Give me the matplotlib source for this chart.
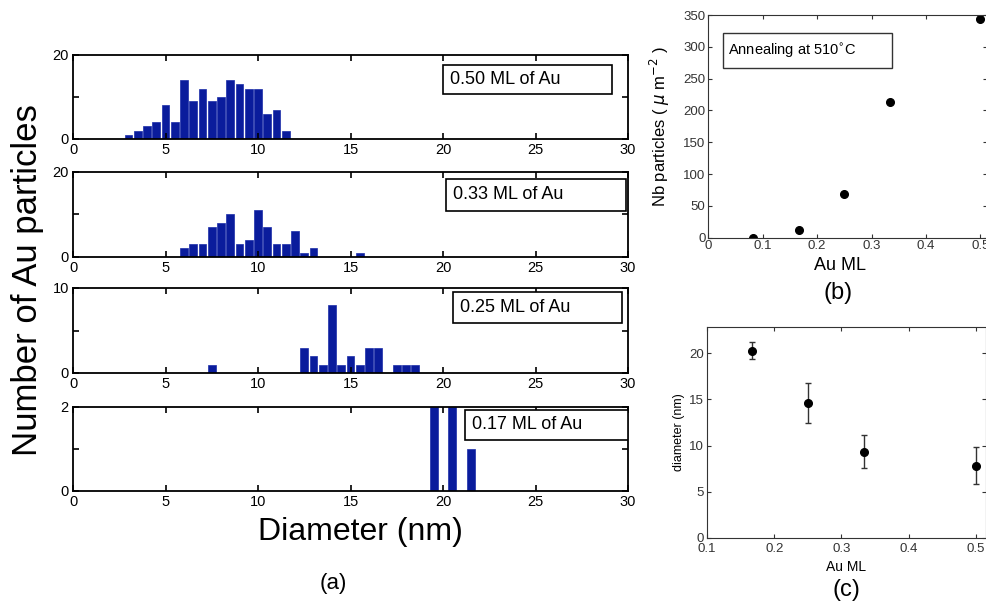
import matplotlib
matplotlib.use('Agg')
import matplotlib.pyplot as plt
from matplotlib.patches import Rectangle

plt.rcParams['font.family'] = ['Liberation Sans', 'DejaVu Sans']

# histogram data: bin centres (nm) and counts, one pair per coverage
c050 = [3.0, 3.5, 4.0, 4.5, 5.0, 5.5, 6.0, 6.5, 7.0, 7.5, 8.0, 8.5, 9.0, 9.5, 10.0, 10.5, 11.0, 11.5]
n050 = [1, 2, 3, 4, 8, 4, 14, 9, 12, 9, 10, 14, 13, 12, 12, 6, 7, 2]
c033 = [6.0, 6.5, 7.0, 7.5, 8.0, 8.5, 9.0, 9.5, 10.0, 10.5, 11.0, 11.5, 12.0, 12.5, 13.0, 15.5]
n033 = [2, 3, 3, 7, 8, 10, 3, 4, 11, 7, 3, 3, 6, 1, 2, 1]
c025 = [7.5, 12.5, 13.0, 13.5, 14.0, 14.5, 15.0, 15.5, 16.0, 16.5, 17.5, 18.0, 18.5]
n025 = [1, 3, 2, 1, 8, 1, 2, 1, 3, 3, 1, 1, 1]
c017 = [19.5, 20.5, 21.5]
n017 = [2, 2, 1]

labels = ['0.50 ML of Au', '0.33 ML of Au', '0.25 ML of Au', '0.17 ML of Au']
ymax = [20, 20, 10, 2]

# (b) particle density vs coverage
ml_b = [0.083, 0.167, 0.25, 0.333, 0.5]
dens_b = [0, 12, 68, 213, 344]

# (c) mean diameter vs coverage
ml_c = [0.167, 0.25, 0.333, 0.5]
diam_c = [20.3, 14.6, 9.35, 7.8]
err_c = [0.9, 2.2, 1.8, 2.0]

W, H = 986, 603
fig = plt.figure(figsize=(W / 100, H / 100), dpi=100)


def pax(left, top, right, bottom):
    # axes from pixel box
    return fig.add_axes([left / W, 1 - bottom / H, (right - left) / W, (bottom - top) / H])


bar_color = '#0a1c9c'

hist_tops = [55, 171.7, 288, 406.7]
hist_bots = [139, 257, 373, 491]
boxes = [(0.666, 0.532, 0.972, 0.881),
         (0.672, 0.543, 0.996, 0.911),
         (0.685, 0.585, 0.989, 0.949),
         (0.706, 0.605, 1.0, 0.961)]
data = [(c050, n050), (c033, n033), (c025, n025), (c017, n017)]

for i in range(4):
    ax = pax(73, hist_tops[i], 628, hist_bots[i])
    cx, cnt = data[i]
    ax.bar(cx, cnt, width=0.42, color=bar_color, edgecolor='#1a2ca8', linewidth=0.5)
    ax.set_xlim(0, 30)
    ax.set_ylim(0, ymax[i])
    ax.set_xticks(range(0, 31, 5))
    ax.set_yticks([0, ymax[i] / 2, ymax[i]])
    ax.set_yticklabels(['0', '', str(ymax[i])])
    ax.tick_params(direction='in', top=True, right=True, length=4, width=1.2, labelsize=10.5, pad=3)
    for sp in ax.spines.values():
        sp.set_linewidth(1.3)
    x0, y0, x1, y1 = boxes[i]
    ax.add_patch(Rectangle((x0, y0), x1 - x0, y1 - y0, transform=ax.transAxes,
                           fill=True, facecolor='white', edgecolor='black', linewidth=1.2, zorder=5))
    ax.text(x0 + 0.013, (y0 + y1) / 2, labels[i], transform=ax.transAxes, ha='left', va='center',
            fontsize=13, zorder=6)

fig.text(28 / W, 1 - 280 / H, 'Number of Au particles', rotation=90, ha='center', va='center', fontsize=25)
fig.text(360 / W, 1 - 532 / H, 'Diameter (nm)', ha='center', va='center', fontsize=23)
fig.text(333 / W, 1 - 583 / H, '(a)', ha='center', va='center', fontsize=16)

gray = '#333333'

# (b)
axb = pax(708.3, 15, 987, 237.7)
axb.plot(ml_b, dens_b, 'o', color='black', markersize=5.5)
axb.set_xlim(0, 0.512)
axb.set_ylim(0, 350)
axb.set_xticks([0, 0.1, 0.2, 0.3, 0.4, 0.5])
axb.set_xticklabels(['0', '0.1', '0.2', '0.3', '0.4', '0.5'])
axb.set_yticks(range(0, 351, 50))
axb.tick_params(direction='in', top=True, right=True, length=3, width=0.8, labelsize=9.5,
                colors=gray, labelcolor='#333333', pad=2)
for sp in axb.spines.values():
    sp.set_color(gray)
axb.add_patch(Rectangle((0.053, 0.762), 0.606, 0.157, transform=axb.transAxes,
                        facecolor='white', edgecolor=gray, linewidth=1))
axb.text(0.072, 0.84, r'Annealing at 510$^{\circ}$C', transform=axb.transAxes,
         ha='left', va='center', fontsize=10.5)
axb.set_ylabel(r'Nb particles ( $\mu$ m$^{-2}$ )', fontsize=12, labelpad=8)
fig.text(840 / W, 1 - 265 / H, 'Au ML', ha='center', va='center', fontsize=13)
fig.text(838 / W, 1 - 293 / H, '(b)', ha='center', va='center', fontsize=17)

# (c)
axc = pax(707, 326.7, 986, 537.7)
axc.errorbar(ml_c, diam_c, yerr=err_c, fmt='o', color='black', ecolor='#333333',
             markersize=5.5, capsize=2.5, elinewidth=1, capthick=1)
axc.set_xlim(0.1, 0.515)
axc.set_ylim(0, 22.9)
axc.set_xticks([0.1, 0.2, 0.3, 0.4, 0.5])
axc.set_yticks(range(0, 21, 5))
axc.tick_params(direction='in', top=True, right=True, length=3, width=0.8, labelsize=9.5,
                colors=gray, labelcolor='#333333', pad=2)
axc.tick_params(axis='x', pad=4)
for sp in axc.spines.values():
    sp.set_color(gray)
axc.set_ylabel('diameter (nm)', fontsize=9, labelpad=3)
fig.text(846 / W, 1 - 567 / H, 'Au ML', ha='center', va='center', fontsize=10)
fig.text(846 / W, 1 - 590 / H, '(c)', ha='center', va='center', fontsize=17)

fig.savefig('out.png', dpi=100)
